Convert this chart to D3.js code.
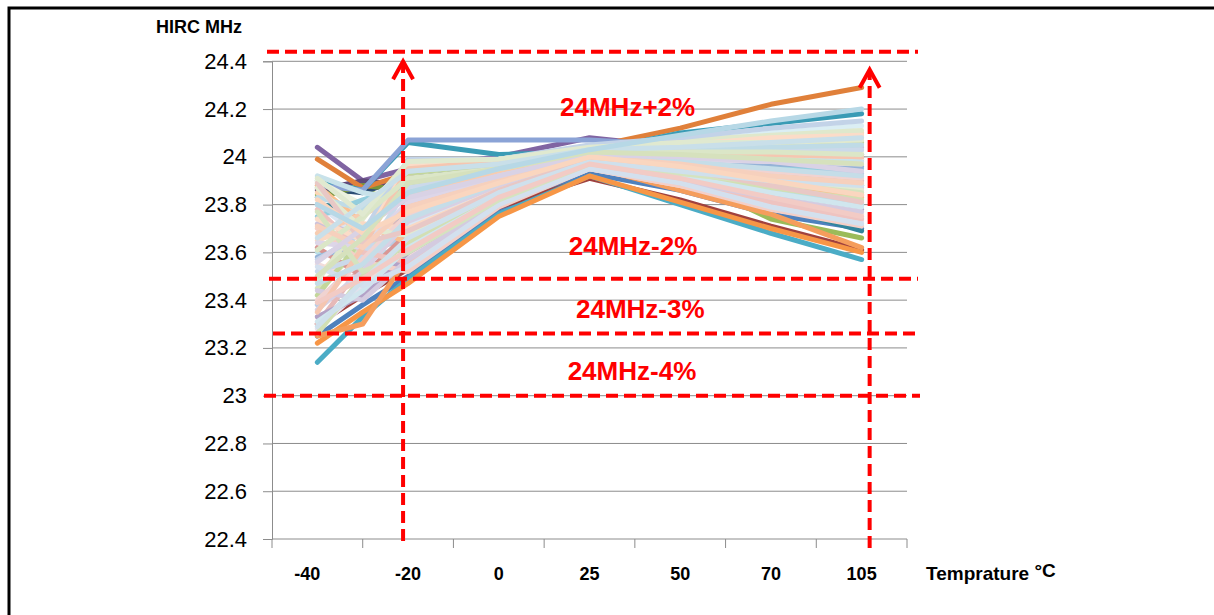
<!DOCTYPE html>
<html>
<head>
<meta charset="utf-8">
<script src="https://cdn.jsdelivr.net/npm/d3@7"></script>
<style>
  body { margin: 0; background: #fff; }
  svg { display: block; font-family: "Liberation Sans", Arial, sans-serif; }
</style>
</head>
<body>
<script>
// category labels on the x axis and the temperatures the curves are sampled at
var categories = ["-40", "-20", "0", "25", "50", "70", "105"];
var temps = [-40, -30, -20, 0, 25, 50, 70, 105];
var yTicks = [22.4, 22.6, 22.8, 23, 23.2, 23.4, 23.6, 23.8, 24, 24.2, 24.4];

// red limit lines (as drawn) and their labels
var limits = [24.44, 23.49, 23.26, 23.0];
var limitLabels = ["24MHz+2%", "24MHz-2%", "24MHz-3%", "24MHz-4%"];

// HIRC frequency per sample, values at temps[]
var series = [
  [23.25, 23.38, 23.50, 23.77, 23.93, 23.86, 23.76, 23.70],
  [23.30, 23.42, 23.53, 23.79, 23.91, 23.82, 23.71, 23.61],
  [23.84, 23.86, 23.80, 23.90, 23.99, 23.92, 23.74, 23.66],
  [24.04, 23.90, 23.95, 24.00, 24.08, 24.04, 24.01, 23.99],
  [23.14, 23.33, 23.49, 23.76, 23.92, 23.80, 23.68, 23.57],
  [23.22, 23.35, 23.47, 23.75, 23.92, 23.81, 23.70, 23.60],
  [23.87, 23.85, 23.92, 23.96, 24.01, 24.01, 24.00, 24.00],
  [23.86, 23.90, 23.88, 23.94, 24.02, 24.00, 23.99, 24.01],
  [23.25, 23.30, 23.58, 23.82, 23.96, 23.86, 23.76, 23.62],
  [23.80, 23.78, 23.82, 23.90, 23.99, 23.92, 23.80, 23.69],
  [23.83, 23.88, 23.86, 23.93, 24.00, 23.97, 23.93, 23.88],
  [23.99, 23.87, 23.93, 23.98, 24.04, 24.12, 24.22, 24.29],
  [23.90, 23.86, 24.06, 24.01, 24.02, 24.10, 24.14, 24.18],
  [23.88, 23.86, 24.07, 24.07, 24.07, 24.05, 24.03, 24.01],
  [23.30, 23.55, 23.80, 23.92, 24.00, 23.97, 23.93, 23.90],
  [23.45, 23.62, 23.70, 23.86, 23.98, 23.95, 23.90, 23.85],
  [23.60, 23.58, 23.62, 23.83, 23.97, 23.92, 23.86, 23.80],
  [23.72, 23.68, 23.90, 23.96, 24.02, 24.02, 24.03, 24.04],
  [23.85, 23.75, 23.97, 23.99, 24.03, 24.05, 24.07, 24.10],
  [23.38, 23.60, 23.66, 23.84, 23.99, 23.97, 23.95, 23.93],
  [23.55, 23.48, 23.58, 23.81, 23.96, 23.90, 23.82, 23.76],
  [23.90, 23.80, 23.75, 23.88, 24.00, 24.01, 24.02, 24.02],
  [23.67, 23.78, 23.96, 23.99, 24.04, 24.06, 24.10, 24.13],
  [23.28, 23.45, 23.55, 23.80, 23.95, 23.88, 23.80, 23.73],
  [23.50, 23.70, 23.85, 23.93, 24.01, 24.00, 24.00, 23.99],
  [23.80, 23.66, 23.72, 23.87, 23.99, 23.96, 23.92, 23.88],
  [23.62, 23.50, 23.68, 23.85, 23.98, 23.94, 23.88, 23.84],
  [23.42, 23.66, 23.93, 23.97, 24.03, 24.04, 24.05, 24.06],
  [23.75, 23.82, 23.88, 23.94, 24.01, 23.99, 23.96, 23.95],
  [23.33, 23.42, 23.60, 23.82, 23.96, 23.91, 23.84, 23.78],
  [23.88, 23.72, 23.64, 23.84, 23.98, 23.93, 23.89, 23.83],
  [23.58, 23.64, 23.78, 23.91, 24.00, 23.98, 23.97, 23.96],
  [23.70, 23.56, 23.52, 23.79, 23.95, 23.88, 23.78, 23.71],
  [23.48, 23.74, 23.98, 23.99, 24.04, 24.07, 24.09, 24.11],
  [23.92, 23.85, 23.82, 23.91, 24.01, 24.00, 23.99, 23.98],
  [23.36, 23.52, 23.73, 23.88, 23.99, 23.96, 23.91, 23.87],
  [23.65, 23.72, 23.70, 23.86, 23.98, 23.95, 23.91, 23.86],
  [23.52, 23.58, 23.87, 23.94, 24.02, 24.03, 24.03, 24.03],
  [23.78, 23.60, 23.56, 23.80, 23.96, 23.89, 23.81, 23.74],
  [23.26, 23.50, 23.64, 23.84, 23.97, 23.93, 23.87, 23.82],
  [23.83, 23.78, 23.94, 23.97, 24.02, 24.03, 24.04, 24.05],
  [23.44, 23.40, 23.57, 23.81, 23.96, 23.90, 23.83, 23.77],
  [23.68, 23.76, 23.84, 23.93, 24.01, 24.01, 24.01, 24.00],
  [23.57, 23.68, 23.99, 23.99, 24.05, 24.08, 24.12, 24.15],
  [23.40, 23.57, 23.76, 23.89, 24.00, 23.97, 23.94, 23.91],
  [23.87, 23.70, 23.67, 23.85, 23.98, 23.94, 23.90, 23.86],
  [23.31, 23.44, 23.62, 23.83, 23.97, 23.92, 23.85, 23.79],
  [23.64, 23.62, 23.81, 23.92, 24.00, 23.99, 23.98, 23.97],
  [23.74, 23.65, 23.96, 23.98, 24.03, 24.05, 24.08, 24.09],
  [23.54, 23.46, 23.54, 23.80, 23.95, 23.89, 23.79, 23.72],
  [23.35, 23.62, 23.95, 23.98, 24.03, 24.02, 24.01, 24.00],
  [23.77, 23.52, 23.60, 23.82, 23.97, 23.93, 23.89, 23.85],
  [23.47, 23.55, 23.74, 23.89, 24.00, 23.98, 23.95, 23.92],
  [23.89, 23.64, 23.69, 23.86, 23.99, 23.95, 23.88, 23.81],
  [23.61, 23.75, 23.91, 23.95, 24.02, 24.02, 24.02, 24.01],
  [23.29, 23.48, 23.66, 23.85, 23.98, 23.94, 23.90, 23.88],
  [23.71, 23.62, 23.79, 23.90, 24.00, 23.97, 23.92, 23.89],
  [23.56, 23.70, 23.83, 23.92, 24.01, 24.00, 23.98, 23.94],
  [23.91, 23.76, 23.98, 23.99, 24.04, 24.06, 24.06, 24.07],
  [23.39, 23.49, 23.61, 23.83, 23.97, 23.91, 23.83, 23.75],
  [23.66, 23.80, 23.94, 23.97, 24.03, 24.04, 24.06, 24.08],
  [23.82, 23.68, 23.77, 23.89, 24.00, 23.96, 23.90, 23.84],
  [23.50, 23.66, 23.89, 23.95, 24.02, 24.01, 23.99, 23.97],
  [23.80, 23.70, 23.85, 23.95, 24.03, 24.09, 24.15, 24.20]
];

// excel-ish colours: saturated ones first, then the pastel tints
var seriesColors = [
  "#4f81bd", "#a0413e", "#9bbb59", "#8064a2", "#4bacc6", "#f79646",
  "#2c4d75", "#5f497a", "#f59d5c", "#31859c", "#76923c",
  "#e0803a", "#3a9bb5", "#8ba3d6",
  "#e6b9b8", "#d7e4bd", "#b7dee8", "#ccc1da", "#fcd5b5", "#b9cde5",
  "#f2dcdb", "#ebf1de", "#dbeef4", "#e6e0ec", "#fde0cc", "#dce6f2",
  "#d99694", "#c3d69b", "#93cddd", "#b3a2c7", "#fac090", "#95b3d7",
  "#f4cfc7", "#dfe8cc", "#c8e2ea", "#d8d0e3", "#f9d9c4", "#cbd9ea",
  "#eec3c0", "#d2dfb4", "#bfdbe6", "#d4cbe0", "#f7ccb0", "#c3d3e8",
  "#f0d3d1", "#e2ead2", "#d0e6ee", "#ddd6e8", "#fbdcc8", "#d3e0ee",
  "#f5c6b0", "#d5e3bf", "#c5dde8", "#e8c8c6", "#dbe6c7", "#cfe0ec",
  "#f6d0bd", "#d9d2e5", "#e0e9d0", "#f2cbc5", "#c9dfe9", "#fad6bf",
  "#d6e1bd", "#b7d8e6"
];

window.onload = function() {
  var w = 1214, h = 615;
  var left = 272, right = 907, top = 61.3, bottom = 539;

  var svg = d3.select("body")
              .append("svg")
              .attr("width", w)
              .attr("height", h);

  svg.append("rect").attr("width", w).attr("height", h).attr("fill", "#fff");

  // frame of the original screenshot
  svg.append("path")
     .attr("d", "M9," + h + "V8H" + w)
     .attr("fill", "none")
     .attr("stroke", "#000")
     .attr("stroke-width", 3);

  var xBand = d3.scaleBand()
                .domain(categories)
                .range([left, right])
                .padding(0);

  var centers = categories.map(function(c) { return xBand(c) + xBand.bandwidth() / 2; });

  // piecewise scale so the curves sit on the category centres
  var xScale = d3.scaleLinear()
                 .domain(categories.map(Number))
                 .range(centers);

  var yScale = d3.scaleLinear()
                 .domain([22.4, 24.4])
                 .range([bottom, top]);

  // gridlines
  svg.append("g")
     .selectAll("line")
     .data(yTicks.slice(1))
     .enter()
     .append("line")
     .attr("x1", left)
     .attr("x2", right)
     .attr("y1", function(d) { return yScale(d); })
     .attr("y2", function(d) { return yScale(d); })
     .style("stroke", "#8c8c8c")
     .style("stroke-width", 1);

  // y axis
  var yAxis = d3.axisLeft(yScale)
                .tickValues(yTicks)
                .tickSize(9)
                .tickPadding(16)
                .tickFormat(d3.format("~r"));

  var gy = svg.append("g")
              .attr("transform", "translate(" + left + ",0)")
              .call(yAxis);
  gy.select(".domain").style("stroke", "#8c8c8c");
  gy.selectAll(".tick line").style("stroke", "#8c8c8c");
  gy.selectAll(".tick text")
    .style("font-size", "22px")
    .style("fill", "#000");

  // x axis: ticks on the band boundaries, labels in the middle
  svg.append("line")
     .attr("x1", left).attr("x2", right)
     .attr("y1", bottom).attr("y2", bottom)
     .style("stroke", "#8c8c8c");

  var bounds = categories.map(function(c) { return xBand(c); }).concat([right]);
  svg.append("g")
     .selectAll("line")
     .data(bounds)
     .enter()
     .append("line")
     .attr("x1", function(d) { return d; })
     .attr("x2", function(d) { return d; })
     .attr("y1", bottom)
     .attr("y2", bottom + 9)
     .style("stroke", "#8c8c8c");

  svg.append("g")
     .selectAll("text")
     .data(categories)
     .enter()
     .append("text")
     .attr("x", function(d, i) { return centers[i] - (i == 0 ? 10 : 0); })
     .attr("y", 580)
     .attr("text-anchor", "middle")
     .style("font-size", "18px")
     .style("font-weight", "bold")
     .text(function(d) { return d; });

  var xt = svg.append("text")
              .attr("x", 926)
              .attr("y", 580)
              .style("font-size", "19px")
              .style("font-weight", "bold")
              .text("Temprature ");
  xt.append("tspan").attr("dy", -3).text("\u00b0C");

  svg.append("text")
     .attr("x", 156)
     .attr("y", 33)
     .style("font-size", "18px")
     .style("font-weight", "bold")
     .text("HIRC MHz");

  // the curves
  var valueline = d3.line()
      .x(function(d, i) { return xScale(temps[i]); })
      .y(function(d) { return yScale(d); });

  svg.append("g")
     .selectAll("path")
     .data(series)
     .enter()
     .append("path")
     .attr("d", valueline)
     .attr("fill", "none")
     .style("stroke", function(d, i) { return seriesColors[i % seriesColors.length]; })
     .style("stroke-width", 5)
     .style("stroke-linejoin", "round")
     .style("stroke-linecap", "round");

  // red dashed limits
  var red = "#ff0000";
  var limitX = [[267, 918], [269, 918], [273, 918], [264, 920]];
  svg.append("g")
     .selectAll("line")
     .data(limits)
     .enter()
     .append("line")
     .attr("x1", function(d, i) { return limitX[i][0]; })
     .attr("x2", function(d, i) { return limitX[i][1]; })
     .attr("y1", function(d) { return yScale(d); })
     .attr("y2", function(d) { return yScale(d); })
     .style("stroke", red)
     .style("stroke-width", 4)
     .style("stroke-dasharray", "12,6");

  // label placement (temperature-ish x, MHz y)
  var labelPos = [[35.5, 24.17], [37, 23.588], [39, 23.324], [36.7, 23.066]];
  svg.append("g")
     .selectAll("text")
     .data(limitLabels)
     .enter()
     .append("text")
     .attr("x", function(d, i) { return xScale(labelPos[i][0]); })
     .attr("y", function(d, i) { return yScale(labelPos[i][1]); })
     .attr("text-anchor", "middle")
     .style("fill", red)
     .style("font-size", "26px")
     .style("font-weight", "bold")
     .text(function(d) { return d; });

  // vertical arrows at -20 and 105
  var arrows = [
    {x: xScale(-20) - 5, y0: 541, tip: yScale(24.4)},
    {x: xScale(105) + 8, y0: 548, tip: yScale(24.365)}
  ];
  arrows.forEach(function(a) {
    svg.append("line")
       .attr("x1", a.x).attr("x2", a.x)
       .attr("y1", a.y0).attr("y2", a.tip + 3)
       .style("stroke", red)
       .style("stroke-width", 4)
       .style("stroke-dasharray", "12,6");
    svg.append("path")
       .attr("d", "M" + (a.x - 10) + "," + (a.tip + 18) + "L" + a.x + "," + a.tip + "L" + (a.x + 10) + "," + (a.tip + 18))
       .attr("fill", "none")
       .style("stroke", red)
       .style("stroke-width", 4);
  });
};
</script>
</body>
</html>
